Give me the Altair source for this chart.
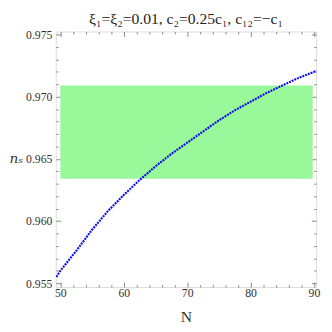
import altair as alt
import pandas as pd

# curve values
N_vals = [49.38, 50, 52.5, 55, 57.5, 60, 62.5, 65, 67.5, 70, 72.5, 75, 77.5, 80, 82.5, 85, 87.5, 90, 90.35]
ns_vals = [0.9555, 0.9560, 0.9576, 0.9593, 0.9608, 0.9621, 0.9633, 0.9644, 0.9654, 0.9663,
           0.9672, 0.9681, 0.9689, 0.9696, 0.9703, 0.9709, 0.9715, 0.9720, 0.9721]

# observational band
band_N = [50.0, 89.8]
band_ns = [0.9634, 0.9709]

x_ticks = [50, 52, 54, 56, 58, 60, 62, 64, 66, 68, 70, 72, 74, 76, 78, 80, 82, 84, 86, 88, 90]
y_ticks = [0.955, 0.956, 0.957, 0.958, 0.959, 0.960, 0.961, 0.962, 0.963, 0.964, 0.965,
           0.966, 0.967, 0.968, 0.969, 0.970, 0.971, 0.972, 0.973, 0.974, 0.975]

x_domain = [49.28, 90.35]
y_domain = [0.95469, 0.97525]

curve = pd.DataFrame({"N": N_vals, "ns": ns_vals})
band = pd.DataFrame({"N1": [band_N[0]], "N2": [band_N[1]], "y1": [band_ns[0]], "y2": [band_ns[1]]})

xmajor = "datum.value % 10 == 0"
ymajor = "abs(datum.value*200 - round(datum.value*200)) < 0.001"
solid = [10, 0]
minor_dash = [0, 2.5, 2.5, 10]

font = "Liberation Serif"
lab_col = "#333333"
frame_col = "#888888"


def xaxis(orient, labels):
    return alt.Axis(
        orient=orient, values=x_ticks, domain=False, grid=False,
        offset=-5, tickSize=5, tickColor=frame_col, tickWidth=1,
        tickDash={"condition": {"test": xmajor, "value": solid}, "value": minor_dash},
        labels=labels,
        labelExpr="datum.value % 10 == 0 ? datum.label : ''",
        labelFont=font, labelFontSize=12, labelColor=lab_col, labelPadding=1,
        labelFlush=False,
        title="N" if labels else None,
        titleFont=font, titleFontSize=16, titleFontWeight="normal", titleColor=lab_col,
        titleY=35, titleBaseline="middle",
    )


def yaxis(orient, labels):
    return alt.Axis(
        orient=orient, values=y_ticks, domain=False, grid=False,
        offset=-5, tickSize=5, tickColor=frame_col, tickWidth=1,
        tickDash={"condition": {"test": ymajor, "value": solid}, "value": minor_dash},
        labels=labels,
        labelExpr="abs(datum.value*200 - round(datum.value*200)) < 0.001 ? format(datum.value, '.3f') : ''",
        labelFont=font, labelFontSize=12, labelColor=lab_col, labelPadding=4,
        labelFlush=False,
        title="nₛ" if labels else None,
        titleFont="DejaVu Serif", titleFontStyle="italic", titleFontSize=14,
        titleFontWeight="normal", titleColor=lab_col,
        titleAngle=0, titleAlign="center", titleBaseline="middle",
        titleX=-46, titleY=130,
    )


band_layer = alt.Chart(band).mark_rect(color="#99F899", opacity=1).encode(
    x=alt.X("N1:Q", scale=alt.Scale(domain=x_domain, nice=False, zero=False), axis=xaxis("bottom", True)),
    x2="N2:Q",
    y=alt.Y("y1:Q", scale=alt.Scale(domain=y_domain, nice=False, zero=False), axis=yaxis("left", True)),
    y2="y2:Q",
)

line_layer = alt.Chart(curve).mark_line(color="#0A0AF5", strokeWidth=2.2, strokeDash=[2, 1], clip=True).encode(
    x=alt.X("N:Q", scale=alt.Scale(domain=x_domain, nice=False, zero=False), axis=xaxis("top", False)),
    y=alt.Y("ns:Q", scale=alt.Scale(domain=y_domain, nice=False, zero=False), axis=yaxis("right", False)),
)

chart = alt.layer(band_layer, line_layer).resolve_axis(
    x="independent", y="independent"
).properties(
    width=267, height=262,
    autosize=alt.AutoSizeParams(type="none"),
    padding={"left": 49, "top": 20, "right": 8, "bottom": 42},
    title=alt.TitleParams(
        "ξ₁=ξ₂=0.01, c₂=0.25c₁, c₁₂=−c₁",
        font=font, fontSize=16, fontWeight="normal", color="#222222",
        anchor="middle", offset=11, baseline="alphabetic", dy=22,
    ),
).configure_view(stroke=frame_col, strokeWidth=1).configure(background="white")

chart.save("out.html", embed_options={"renderer": "svg", "actions": False})
